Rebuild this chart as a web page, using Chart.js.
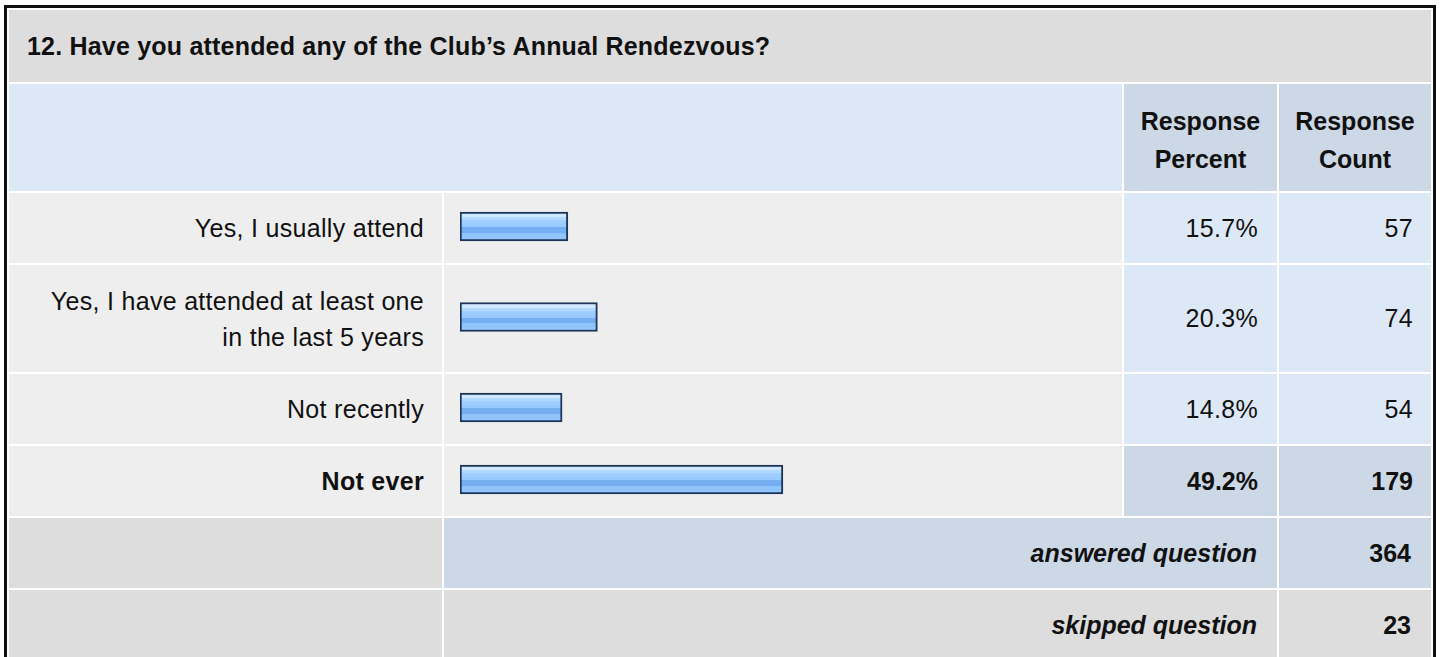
<!DOCTYPE html>
<html>
<head>
<meta charset="utf-8">
<script src="https://cdn.jsdelivr.net/npm/chart.js@4.4.1/dist/chart.umd.min.js"></script>
<style>
  html, body { margin: 0; padding: 0; background: #fff; overflow: hidden; }
  body { width: 1440px; height: 657px; font-family: "Liberation Sans", Arial, sans-serif; font-size: 25px; color: #111; }
  .frame { position: absolute; left: 4px; top: 5px; width: 1422px; padding: 2px; border: 3px solid #111; border-bottom: none; }
  .grid { display: grid; grid-template-columns: 433px 678px 153px 152px; grid-template-rows: 72px 107px 70px 107px 70px 70px 70px 70px; gap: 2px; }
  .cell { display: flex; align-items: center; box-sizing: border-box; }
  .title { grid-column: 1 / span 4; background: #dddddd; font-weight: bold; padding-left: 18px; letter-spacing: 0.2px; }
  .hblank { grid-column: 1 / span 2; background: #dce8f6; }
  .hcol { background: #ccd8e6; font-weight: bold; justify-content: center; text-align: center; line-height: 38px; padding: 4px 10px 0; }
  .label { background: #eeeeee; justify-content: flex-end; text-align: right; padding: 0 18px 0 30px; line-height: 36px; letter-spacing: 0.3px; }
  .barcell { background: #eeeeee; position: relative; }
  .barcell canvas { position: absolute; left: 0; top: 0; }
  .num { background: #dde8f6; justify-content: flex-end; padding-right: 18px; letter-spacing: 0.3px; }
  .num.pct { padding-right: 19px; }
  .max { font-weight: bold; }
  .num.max { background: #ccd8e6; letter-spacing: 0; }
  .grey { background: #dddddd; }
  .total { background: #ccd8e6; font-weight: bold; justify-content: flex-end; padding-right: 20px; }
  .total.note { grid-column: 2 / span 2; font-style: italic; }
  .total.grey { background: #dddddd; }
</style>
</head>
<body>
<div class="frame"><div class="grid" id="grid"></div></div>
<script>
  const questionTitle = '12. Have you attended any of the Club\u2019s Annual Rendezvous?';
  const columnHeaders = ['Response Percent', 'Response Count'];
  const categories = ['Yes, I usually attend', 'Yes, I have attended at least one in the last 5 years', 'Not recently', 'Not ever'];
  const percents = [15.7, 20.3, 14.8, 49.2];
  const counts = [57, 74, 54, 179];
  const totalLabels = ['answered question', 'skipped question'];
  const totals = [364, 23];

  // bars start a little left of zero, like the survey images do
  const AXIS_MIN = -1.1;

  const grid = document.getElementById('grid');

  function addCell(cls, text) {
    const div = document.createElement('div');
    div.className = 'cell ' + cls;
    if (text !== undefined) div.textContent = text;
    grid.appendChild(div);
    return div;
  }

  function barFill(c) {
    const chart = c.chart;
    const area = chart.chartArea;
    if (!area) return '#9ecdff';
    const top = (area.top + area.bottom) / 2 - 14.5;
    const g = chart.ctx.createLinearGradient(0, top, 0, top + 29);
    g.addColorStop(0, '#cfe7ff');
    g.addColorStop(0.18, '#cfe7ff');
    g.addColorStop(0.18, '#b3d9ff');
    g.addColorStop(0.28, '#b3d9ff');
    g.addColorStop(0.28, '#a2cfff');
    g.addColorStop(0.52, '#97c8ff');
    g.addColorStop(0.53, '#76aff1');
    g.addColorStop(0.72, '#76aff1');
    g.addColorStop(0.72, '#8ec3fb');
    g.addColorStop(1, '#93c6fd');
    return g;
  }

  function makeBar(canvas, label, value) {
    return new Chart(canvas, {
      type: 'bar',
      data: {
        labels: [label],
        datasets: [{
          data: [value],
          base: AXIS_MIN,
          backgroundColor: barFill,
          borderColor: '#1d3559',
          borderWidth: 2,
          borderSkipped: false,
          barThickness: 29
        }]
      },
      options: {
        indexAxis: 'y',
        responsive: false,
        animation: false,
        events: [],
        layout: { padding: { left: 16, right: 13, top: 0, bottom: 3 } },
        plugins: { legend: { display: false }, tooltip: { enabled: false } },
        scales: {
          x: { min: AXIS_MIN, max: 100, display: false },
          y: { display: false }
        }
      }
    });
  }

  addCell('title', questionTitle);
  addCell('hblank');
  columnHeaders.forEach(h => addCell('hcol', h));

  const maxIdx = percents.indexOf(Math.max(...percents));
  const barCells = [];
  categories.forEach((cat, i) => {
    const isMax = i === maxIdx ? ' max' : '';
    addCell('label' + isMax, cat);
    barCells.push(addCell('barcell'));
    addCell('num pct' + isMax, percents[i].toFixed(1) + '%');
    addCell('num' + isMax, String(counts[i]));
  });

  totalLabels.forEach((t, i) => {
    const tone = i === 0 ? '' : ' grey';
    addCell('grey');
    addCell('total note' + tone, t);
    addCell('total' + tone, String(totals[i]));
  });

  barCells.forEach((cell, i) => {
    const canvas = document.createElement('canvas');
    canvas.width = cell.clientWidth;
    canvas.height = cell.clientHeight;
    cell.appendChild(canvas);
    makeBar(canvas, categories[i], percents[i]);
  });
</script>
</body>
</html>
